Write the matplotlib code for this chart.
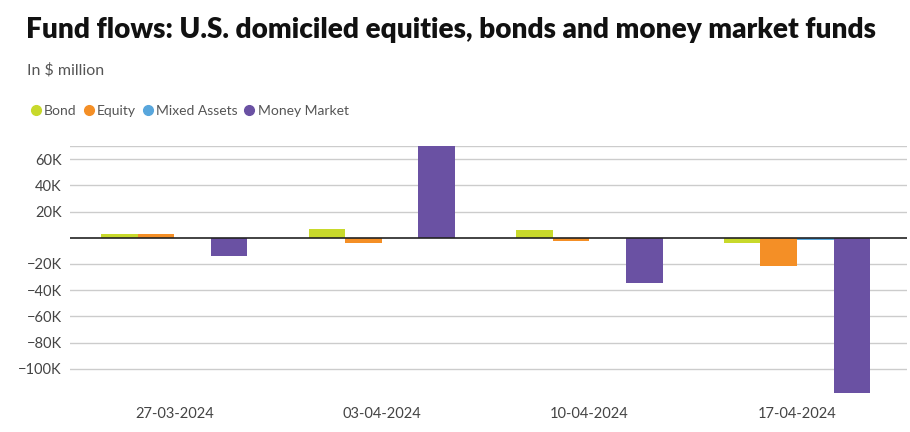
import matplotlib.pyplot as plt
import numpy as np

plt.rcParams['font.family'] = ['Lato', 'DejaVu Sans']

dates = ['27-03-2024', '03-04-2024', '10-04-2024', '17-04-2024']
series = ['Bond', 'Equity', 'Mixed Assets', 'Money Market']
bond = [2800, 6900, 6000, -3800]
equity = [2800, -3800, -2500, -21400]
mixed = [0, 0, 0, -1500]
money_market = [-13700, 70000, -34800, -118300]
colors = ['#c8d92b', '#f48f26', '#58a6dc', '#6a51a3']

values = [bond, equity, mixed, money_market]

fig = plt.figure(figsize=(9.1, 4.32), dpi=100)
ax = fig.add_axes([70/910, 1-392.7/432, 837/910, (392.7-146)/432])

x = np.arange(len(dates))
w = 0.176
handles = []
for i, (name, vals, c) in enumerate(zip(series, values, colors)):
    ax.bar(x + (i - 1.5) * w, vals, width=w, color=c, zorder=3)
    handles.append(plt.Line2D([], [], marker='o', linestyle='', color=c,
                              markersize=7, label=name))

ax.set_xlim(-0.503, 3.53)
ax.set_ylim(-118300, 70000)
yt = [-100000, -80000, -60000, -40000, -20000, 20000, 40000, 60000]
ax.set_yticks(yt)
ax.set_yticklabels(['\u2212%dK' % (abs(v)//1000) if v < 0 else '%dK' % (v//1000) for v in yt])
ax.set_xticks(x)
ax.set_xticklabels(dates)
ax.grid(axis='y', color='#cccccc', linewidth=1, zorder=0)
ax.axhline(70000, color='#cccccc', linewidth=1, zorder=0)
ax.axhline(0, color='#222222', linewidth=1.2, zorder=4)
for s in ax.spines.values():
    s.set_visible(False)
ax.tick_params(axis='both', length=0, labelsize=10.5, labelcolor='#444444')
ax.tick_params(axis='x', pad=10)
ax.tick_params(axis='y', pad=6)

fig.text(26/910, 1-30/432, 'Fund flows: U.S. domiciled equities, bonds and money market funds',
         fontsize=20.1, fontweight='heavy', color='#111111', va='center')
fig.text(27/910, 1-70/432, 'In $ million', fontsize=11.5, color='#555555', va='center')
fig.legend(handles=handles, loc='center left', bbox_to_anchor=(17/910, 1-111/432),
           ncol=4, frameon=False, handletextpad=0.15, columnspacing=0.4,
           handlelength=0.9, fontsize=10, labelcolor='#555555')

fig.savefig('out.png', dpi=100)
